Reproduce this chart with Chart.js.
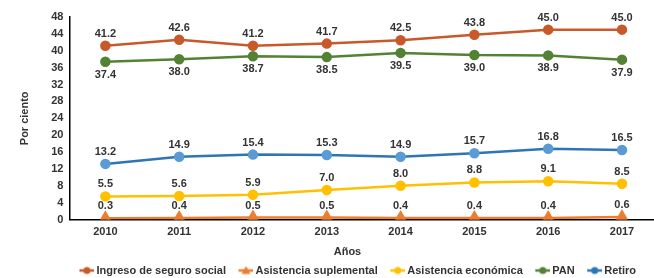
<!DOCTYPE html>
<html>
<head>
<meta charset="utf-8">
<script src="https://cdn.jsdelivr.net/npm/chart.js@4"></script>
<style>
  html, body { margin: 0; padding: 0; background: #fff; }
  #wrap { width: 654px; height: 278px; }
</style>
</head>
<body>
<div id="wrap"><canvas id="chart" width="654" height="278"></canvas></div>
<script>
const years = ["2010", "2011", "2012", "2013", "2014", "2015", "2016", "2017"];
const ingresoSeguro = [41.2, 42.6, 41.2, 41.7, 42.5, 43.8, 45.0, 45.0];
const asistSuplemental = [0.3, 0.4, 0.5, 0.5, 0.4, 0.4, 0.4, 0.6];
const asistEconomica = [5.5, 5.6, 5.9, 7.0, 8.0, 8.8, 9.1, 8.5];
const pan = [37.4, 38.0, 38.7, 38.5, 39.5, 39.0, 38.9, 37.9];
const retiro = [13.2, 14.9, 15.4, 15.3, 14.9, 15.7, 16.8, 16.5];

const textColor = "#333333";
const fontFamily = "Arial, 'Liberation Sans', sans-serif";
const markerBox = 18;
const markerImgW = 25; // wider than the box so the line reaches close to the text

function toPoints(values) {
    return values.map((v, i) => ({ x: i, y: v }));
}

// legend marker: line with the point style in the middle
function legendMarker(color, style) {
    const c = document.createElement("canvas");
    c.width = markerImgW;
    c.height = 10;
    const g = c.getContext("2d");
    const x0 = markerImgW - 15;
    const cx = x0 + 7.5;
    g.strokeStyle = color;
    g.lineWidth = 2.5;
    g.beginPath();
    g.moveTo(x0, 5);
    g.lineTo(markerImgW, 5);
    g.stroke();
    g.fillStyle = color;
    g.beginPath();
    if (style === "triangle") {
        g.moveTo(cx, 0.5);
        g.lineTo(cx + 4.5, 8.5);
        g.lineTo(cx - 4.5, 8.5);
        g.closePath();
    } else {
        g.arc(cx, 5, 3.5, 0, Math.PI * 2);
    }
    g.fill();
    return c;
}

const seriesDefs = [
    { label: "Ingreso de seguro social", data: ingresoSeguro, line: "#C8592A", point: "#C8592A", style: "circle", below: false },
    { label: "Asistencia suplemental", data: asistSuplemental, line: "#ED7D31", point: "#ED7D31", style: "triangle", below: false },
    { label: "Asistencia económica", data: asistEconomica, line: "#FFC000", point: "#FFC000", style: "circle", below: false },
    { label: "PAN", data: pan, line: "#548235", point: "#548235", style: "circle", below: true },
    { label: "Retiro", data: retiro, line: "#2E75B6", point: "#5B9BD5", style: "circle", below: false },
];

const datasets = seriesDefs.map((s) => ({
    label: s.label,
    data: toPoints(s.data),
    borderColor: s.line,
    backgroundColor: s.point,
    pointBackgroundColor: s.point,
    pointBorderColor: s.point,
    pointStyle: s.style,
    pointRadius: s.style === "triangle" ? 5.5 : 4,
    borderWidth: 2.5,
    tension: 0,
    labelBelow: s.below,
    marker: legendMarker(s.line, s.style),
}));

const valueLabels = {
    id: "valueLabels",
    afterLayout(chart) {
        // legend sits a bit in from the right edge in the original
        chart.legend.left -= 11;
        chart.legend.right -= 11;
    },
    afterDatasetsDraw(chart) {
        const ctx = chart.ctx;
        ctx.save();
        ctx.font = "bold 11px " + fontFamily;
        ctx.fillStyle = textColor;
        ctx.textAlign = "center";
        ctx.textBaseline = "middle";
        chart.data.datasets.forEach((ds, i) => {
            const meta = chart.getDatasetMeta(i);
            meta.data.forEach((pt, j) => {
                const v = ds.data[j].y;
                const dy = ds.labelBelow ? 13 : -12;
                ctx.fillText(v.toFixed(1), pt.x, pt.y + dy);
            });
        });
        ctx.restore();
    },
};

new Chart(document.getElementById("chart").getContext("2d"), {
    type: "line",
    data: { datasets: datasets },
    options: {
        responsive: false,
        animation: false,
        layout: { autoPadding: false, padding: { top: 17, left: 18, right: 1, bottom: -8 } },
        plugins: {
            legend: {
                position: "bottom",
                align: "end",
                labels: {
                    color: textColor,
                    font: { family: fontFamily, size: 11, weight: "bold" },
                    usePointStyle: true,
                    pointStyleWidth: markerBox,
                    padding: 6,
                    generateLabels(chart) {
                        return chart.data.datasets.map((ds, i) => ({
                            text: ds.label,
                            pointStyle: ds.marker,
                            fillStyle: ds.borderColor,
                            strokeStyle: ds.borderColor,
                            lineWidth: 0,
                            hidden: false,
                            datasetIndex: i,
                            fontColor: textColor,
                        }));
                    },
                },
            },
            tooltip: { enabled: false },
        },
        scales: {
            x: {
                type: "linear",
                min: -0.487,
                max: 7.42,
                grid: { display: false, drawTicks: false },
                border: { display: true, color: "#000", width: 1.5 },
                afterBuildTicks(scale) {
                    scale.ticks = years.map((y, i) => ({ value: i }));
                },
                afterFit(scale) {
                    scale.paddingLeft = 0;
                    scale.paddingRight = 0;
                },
                ticks: {
                    color: textColor,
                    padding: 6,
                    autoSkip: false,
                    maxRotation: 0,
                    font: { family: fontFamily, size: 11, weight: "bold" },
                    callback: (v) => years[v],
                },
                title: {
                    display: true,
                    // trailing spaces nudge the centred title a little left, as in the original
                    text: "Años         ",
                    color: textColor,
                    font: { family: fontFamily, size: 11, weight: "bold" },
                    padding: { top: 1, bottom: 0 },
                },
            },
            y: {
                min: 0,
                max: 48,
                grid: { display: false, drawTicks: false },
                border: { display: true, color: "#000", width: 1.5 },
                afterBuildTicks(scale) {
                    const t = [];
                    for (let v = 0; v <= 48; v += 4) t.push({ value: v });
                    scale.ticks = t;
                },
                ticks: {
                    autoSkip: false,
                    color: textColor,
                    padding: 6,
                    font: { family: fontFamily, size: 11, weight: "bold" },
                },
                title: {
                    display: true,
                    text: "Por ciento",
                    color: textColor,
                    font: { family: fontFamily, size: 11, weight: "bold" },
                    padding: { top: 0, bottom: 14 },
                },
            },
        },
    },
    plugins: [valueLabels],
});
</script>
</body>
</html>
